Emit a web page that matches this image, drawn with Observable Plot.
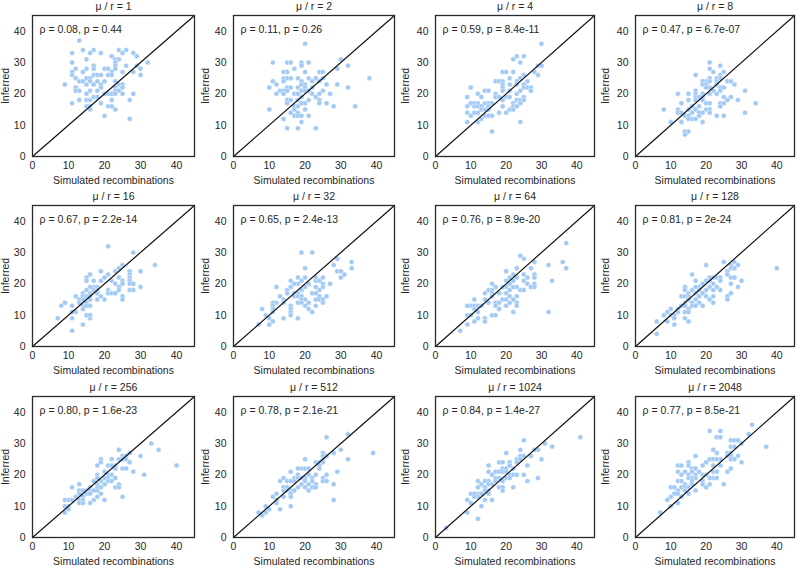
<!DOCTYPE html>
<html>
<head>
<meta charset="utf-8">
<script src="https://cdn.jsdelivr.net/npm/d3@7"></script>
<script src="https://cdn.jsdelivr.net/npm/@observablehq/plot@0.6"></script>
<style>
  html, body { margin: 0; padding: 0; background: #fff; }
  #chart { position: relative; width: 800px; height: 566px; overflow: hidden; }
</style>
</head>
<body>
<div id="chart"></div>
<script>
const ratios = [1, 2, 4, 8, 16, 32, 64, 128, 256, 512, 1024, 2048];
const rhos = ["0.08", "0.11", "0.59", "0.47", "0.67", "0.65", "0.76", "0.81", "0.80", "0.78", "0.84", "0.77"];
const pvals = ["0.44", "0.26", "8.4e-11", "6.7e-07", "2.2e-14", "2.4e-13", "8.9e-20", "2e-24", "1.6e-23", "2.1e-21", "1.4e-27", "8.5e-21"];
const ticks = [0, 10, 20, 30, 40];
const axisDomain = [0, 45];

const pts1 = [[13,37],[14,34],[17,34],[16,33],[19,33],[24,34],[25,33],[26,34],[28,33],[29,32],[22,32],[11,33],[23,31],[23,30],[23,29],[23,28],[24,31],[32,30],[29,29],[26,29],[11,30],[15,31],[17,29],[17,28],[12,28],[15,28],[20,28],[21,28],[30,28],[11,27],[14,27],[22,27],[25,27],[28,27],[11,26],[17,26],[18,26],[19,26],[21,26],[22,26],[30,26],[12,25],[15,25],[16,25],[13,24],[14,24],[16,24],[18,24],[20,24],[23,24],[17,23],[9,23],[15,23],[19,23],[24,23],[25,23],[12,22],[23,22],[25,22],[19,22],[12,21],[13,21],[16,21],[18,21],[23,21],[24,21],[21,20],[20,20],[22,20],[23,20],[25,20],[15,20],[28,20],[17,19],[18,19],[13,18],[15,18],[16,18],[22,18],[27,18],[11,17],[19,17],[15,16],[16,16],[21,16],[22,16],[23,15],[16,15],[20,13],[27,12]];
const pts2 = [[20,36],[11,30],[15,30],[16,30],[19,30],[21,30],[30,31],[32,29],[19,29],[17,28],[29,28],[14,27],[15,27],[20,27],[24,27],[25,27],[14,25],[15,25],[16,25],[18,25],[21,25],[23,25],[25,25],[38,25],[11,24],[14,24],[19,24],[22,24],[24,24],[12,23],[19,23],[20,23],[26,23],[29,23],[10,22],[15,22],[16,22],[18,22],[20,22],[22,22],[32,22],[13,21],[14,21],[15,21],[19,21],[20,21],[21,21],[25,21],[12,20],[14,20],[17,20],[18,20],[22,20],[24,20],[27,20],[19,19],[23,19],[15,18],[16,18],[18,18],[21,18],[24,18],[15,17],[19,17],[20,17],[24,17],[26,17],[17,16],[18,16],[28,16],[34,16],[10,15],[17,15],[20,15],[16,14],[18,14],[17,13],[18,13],[19,13],[21,13],[14,12],[19,11],[15,9],[18,9],[23,9]];
const pts3 = [[30,36],[23,32],[25,32],[22,31],[24,30],[29,29],[30,29],[28,27],[19,27],[20,27],[22,27],[29,26],[25,26],[21,25],[24,25],[17,24],[18,24],[19,24],[23,24],[26,24],[19,23],[19,22],[21,23],[23,23],[25,23],[25,22],[26,22],[27,22],[27,21],[10,22],[19,21],[24,21],[14,21],[15,21],[21,21],[12,20],[17,20],[23,20],[9,19],[13,19],[17,19],[18,19],[20,19],[21,19],[25,19],[19,18],[23,18],[24,18],[25,18],[10,17],[11,17],[12,17],[14,17],[15,17],[16,17],[22,17],[24,17],[11,16],[12,16],[13,16],[15,16],[9,16],[22,16],[23,16],[13,15],[14,15],[15,15],[19,16],[21,15],[18,14],[20,14],[9,14],[11,14],[12,14],[22,15],[10,13],[14,13],[15,13],[16,13],[13,12],[9,11],[12,11],[24,11],[16,8]];
const pts4 = [[21,30],[24,29],[21,28],[22,27],[25,27],[24,26],[17,26],[21,25],[23,25],[24,25],[20,24],[21,24],[19,24],[26,24],[27,24],[23,24],[19,23],[20,23],[23,23],[28,23],[21,22],[24,22],[25,22],[20,22],[17,21],[22,21],[24,21],[31,21],[12,20],[15,20],[17,20],[19,20],[21,20],[23,20],[17,19],[18,19],[25,19],[27,19],[19,19],[17,18],[15,18],[29,18],[26,18],[19,18],[13,17],[20,17],[21,17],[24,17],[25,17],[34,17],[16,16],[18,16],[24,16],[8,15],[12,15],[17,15],[20,15],[21,15],[15,15],[12,14],[13,14],[16,14],[18,14],[19,14],[21,14],[31,14],[14,13],[15,13],[18,13],[23,13],[25,13],[16,12],[15,12],[17,12],[13,11],[10,11],[19,11],[14,8],[15,8],[14,7]];
const pts5 = [[21,32],[28,30],[34,26],[25,26],[24,25],[23,24],[19,24],[30,24],[27,24],[27,23],[27,22],[27,21],[27,20],[16,23],[21,23],[15,22],[20,22],[24,22],[15,21],[17,21],[19,21],[22,21],[25,21],[23,20],[25,20],[28,20],[17,19],[18,19],[16,19],[24,19],[30,19],[15,18],[17,18],[18,18],[21,18],[24,18],[27,18],[28,18],[14,17],[16,17],[18,17],[21,17],[22,17],[23,17],[12,16],[14,16],[15,16],[16,16],[19,16],[25,16],[14,15],[16,15],[18,15],[20,15],[25,15],[13,15],[15,14],[9,14],[13,14],[14,13],[8,13],[11,13],[15,13],[16,13],[12,11],[14,12],[11,11],[7,9],[11,9],[15,10],[16,9],[16,10],[14,7],[11,5]];
const pts6 = [[19,30],[22,30],[29,28],[28,26],[33,27],[33,25],[29,24],[30,24],[31,23],[30,22],[20,25],[19,21],[16,21],[18,20],[17,20],[21,20],[23,21],[24,21],[20,22],[18,22],[25,22],[23,22],[27,20],[25,20],[25,19],[23,19],[16,19],[12,19],[20,19],[15,18],[19,18],[24,18],[15,17],[17,17],[18,17],[22,17],[23,17],[13,16],[17,16],[18,16],[19,16],[24,16],[26,16],[14,15],[19,15],[20,15],[23,15],[24,15],[25,15],[18,14],[19,14],[21,14],[12,14],[11,14],[14,14],[25,14],[11,13],[11,12],[16,13],[20,13],[23,13],[8,12],[16,12],[21,12],[22,11],[11,11],[16,11],[9,10],[16,10],[10,9],[14,9],[18,9],[11,8],[10,7],[7,7]];
const pts7 = [[37,33],[24,29],[25,28],[28,27],[36,27],[32,26],[37,25],[23,25],[27,25],[20,24],[25,23],[28,23],[22,23],[26,22],[28,22],[23,22],[21,22],[20,21],[22,21],[25,21],[33,21],[16,20],[21,20],[26,20],[28,20],[20,19],[22,19],[23,19],[27,19],[28,19],[17,19],[19,19],[15,18],[16,18],[21,18],[24,18],[25,18],[14,17],[16,17],[18,17],[20,17],[23,16],[21,16],[16,16],[14,15],[19,15],[20,15],[22,15],[15,14],[17,14],[18,14],[21,14],[23,14],[17,13],[20,13],[23,13],[18,12],[10,13],[11,13],[12,13],[13,13],[9,13],[11,15],[11,12],[9,10],[10,10],[12,11],[22,11],[32,11],[16,10],[17,10],[14,9],[12,9],[11,8],[14,8],[9,7],[7,5]];
const pts8 = [[40,25],[28,27],[25,27],[29,26],[20,26],[27,26],[27,25],[28,25],[26,24],[26,23],[22,22],[23,22],[24,22],[21,22],[27,22],[28,22],[16,23],[17,21],[20,21],[21,21],[24,21],[30,21],[22,20],[19,20],[27,20],[23,19],[21,19],[18,19],[17,19],[29,19],[14,19],[16,18],[18,18],[20,18],[22,18],[14,18],[24,18],[15,17],[17,17],[19,17],[27,17],[13,16],[14,16],[15,16],[18,16],[20,16],[22,16],[26,16],[17,15],[15,15],[26,15],[21,15],[14,14],[16,14],[18,14],[22,14],[13,13],[14,13],[16,13],[17,13],[19,13],[12,12],[15,12],[10,12],[9,11],[12,11],[14,11],[15,11],[8,10],[10,10],[11,10],[11,9],[14,9],[6,8],[9,8],[15,8],[11,7],[6,4]];
const pts9 = [[33,30],[35,28],[40,23],[31,20],[30,26],[27,27],[24,28],[25,26],[26,26],[24,25],[25,25],[19,25],[22,25],[26,25],[19,24],[27,24],[23,23],[18,23],[21,23],[22,23],[25,22],[26,22],[23,22],[28,21],[20,21],[18,20],[18,19],[21,20],[22,20],[20,19],[21,19],[23,19],[19,18],[21,18],[22,18],[17,18],[24,17],[20,17],[18,17],[13,17],[11,16],[16,16],[18,16],[19,16],[23,16],[24,16],[15,15],[16,15],[13,15],[14,15],[18,15],[17,15],[13,14],[15,14],[16,14],[19,14],[14,13],[12,13],[18,13],[25,13],[9,12],[10,12],[11,12],[13,12],[14,12],[17,12],[20,12],[13,11],[14,11],[16,11],[9,10],[10,10],[10,9],[9,8]];
const pts10 = [[32,33],[26,32],[39,27],[30,28],[32,25],[28,27],[25,27],[26,26],[25,26],[20,25],[23,24],[24,24],[25,25],[25,24],[24,23],[24,22],[19,22],[20,22],[18,22],[21,22],[29,21],[16,21],[23,20],[18,20],[21,20],[26,20],[14,19],[17,19],[18,19],[19,19],[20,19],[22,19],[25,19],[13,18],[15,18],[17,18],[20,18],[22,18],[25,18],[26,18],[16,18],[19,17],[21,17],[23,17],[28,17],[14,16],[15,16],[18,16],[20,16],[22,16],[23,16],[16,15],[17,15],[21,15],[14,15],[15,15],[12,14],[16,14],[11,13],[14,13],[16,13],[12,12],[28,12],[12,11],[9,10],[16,10],[10,9],[13,9],[9,8],[7,8],[8,7]];
const pts11 = [[41,32],[31,30],[33,29],[25,31],[29,28],[28,28],[24,28],[27,26],[24,26],[25,26],[23,25],[30,25],[20,27],[24,25],[18,24],[19,24],[21,24],[23,24],[21,23],[26,23],[15,23],[19,22],[20,22],[22,22],[15,21],[17,21],[18,21],[19,21],[20,21],[16,20],[21,20],[22,20],[23,20],[25,20],[18,19],[17,19],[20,19],[21,19],[29,19],[12,18],[14,18],[15,18],[17,18],[19,18],[26,18],[13,17],[15,17],[16,17],[12,16],[14,16],[18,16],[19,16],[22,16],[15,15],[14,15],[19,15],[12,14],[12,13],[10,14],[11,14],[13,14],[15,14],[11,13],[9,12],[14,12],[16,12],[10,11],[13,10],[9,8],[12,6],[3,3]];
const pts12 = [[33,36],[21,34],[24,34],[23,32],[24,32],[32,33],[27,31],[28,31],[29,31],[30,30],[37,29],[27,29],[28,29],[29,26],[26,27],[27,27],[22,28],[23,27],[26,26],[27,26],[24,25],[27,25],[28,25],[21,25],[22,25],[23,25],[17,26],[20,24],[30,24],[15,24],[12,23],[13,23],[15,23],[19,23],[22,23],[24,23],[16,22],[17,22],[27,22],[12,21],[14,21],[16,21],[18,21],[22,21],[23,21],[26,21],[13,20],[15,20],[17,20],[19,20],[20,20],[22,19],[23,19],[15,19],[16,19],[17,19],[21,19],[12,18],[13,18],[16,18],[19,18],[14,17],[16,17],[19,17],[21,17],[25,17],[10,16],[11,16],[13,16],[14,16],[15,16],[20,16],[14,15],[17,15],[12,15],[11,14],[12,14],[15,14],[10,13],[13,13],[9,12],[12,11],[10,10],[7,8]];

const panels = [pts1, pts2, pts3, pts4, pts5, pts6, pts7, pts8, pts9, pts10, pts11, pts12];

const colLeft = [0, 200, 400, 600];
const rowTop = [0, 190, 381];
const marginLefts = [32, 33, 35, 35];

const chart = document.getElementById("chart");
panels.forEach((pts, i) => {
  const col = i % 4, row = Math.floor(i / 4);
  const svg = Plot.plot({
    width: 200,
    height: 185,
    marginLeft: marginLefts[col],
    marginRight: 6,
    marginTop: 15,
    marginBottom: 29,
    style: {fontFamily: "'Liberation Sans', Arial, sans-serif", fontSize: "10.5px", color: "#262626", background: "transparent", overflow: "visible"},
    x: {domain: axisDomain, ticks: ticks, tickSize: 0, tickPadding: 5, label: "Simulated recombinations", labelAnchor: "center", labelArrow: "none", labelOffset: 27},
    y: {domain: axisDomain, ticks: ticks, tickSize: 0, tickPadding: 7, label: "Inferred", labelAnchor: "center", labelArrow: "none", labelOffset: marginLefts[col] - 1},
    marks: [
      Plot.dot(pts, {x: d => d[0], y: d => d[1], r: 2.5, fill: "#a1c9f4", stroke: "white", strokeWidth: 0.4}),
      Plot.line(axisDomain, {x: d => d, y: d => d, stroke: "#111", strokeWidth: 1.2}),
      Plot.frame({stroke: "#2a2a2a", strokeWidth: 1.3}),
      Plot.text([`ρ = ${rhos[i]}, p = ${pvals[i]}`], {frameAnchor: "top-left", dx: 7, dy: 14, textAnchor: "start", lineAnchor: "middle", fill: "#262626"}),
      Plot.text([`μ / r = ${ratios[i]}`], {frameAnchor: "top", dy: -9, lineAnchor: "middle", fill: "#262626"})
    ]
  });
  svg.style.left = colLeft[col] + "px";
  svg.style.top = rowTop[row] + "px";
  svg.style.position = "absolute";
  chart.appendChild(svg);
});
</script>
</body>
</html>
